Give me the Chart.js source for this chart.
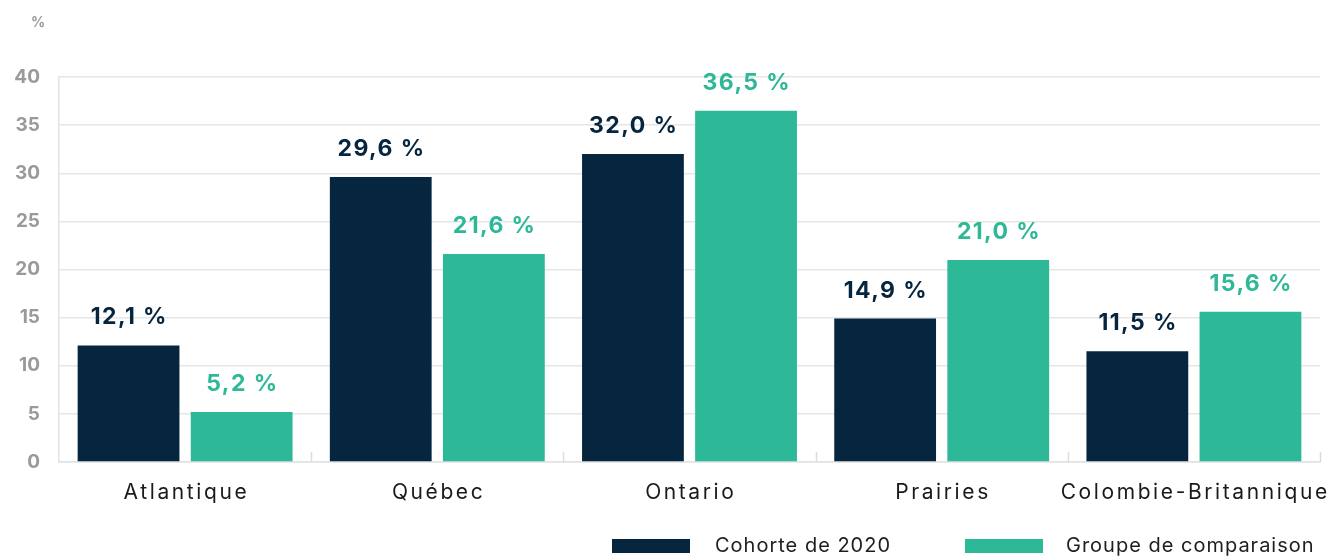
<!DOCTYPE html>
<html lang="fr">
<head>
<meta charset="utf-8">
<title>Cohorte de 2020 par région</title>
<script src="https://cdn.jsdelivr.net/npm/chart.js@4.4.1/dist/chart.umd.min.js"></script>
<style>
  html, body { margin: 0; padding: 0; background: #ffffff; }
  #wrap { position: relative; width: 1338px; height: 557px; }
</style>
</head>
<body>
<div id="wrap"><canvas id="regionChart" width="1338" height="557"></canvas></div>
<script>
// --- Data ---
const regions = ['Atlantique', 'Québec', 'Ontario', 'Prairies', 'Colombie-Britannique'];
const cohorte2020 = [12.1, 29.6, 32.0, 14.9, 11.5];
const groupeComparaison = [5.2, 21.6, 36.5, 21.0, 15.6];
const yTicks = [0, 5, 10, 15, 20, 25, 30, 35, 40];

const navy = '#062640';
const teal = '#2db897';
const fontFamily = 'Inter, "Open Sans", sans-serif';

// text with letter spacing, centred or left aligned
function spacedText(ctx, txt, x, y, spacing, align) {
    ctx.letterSpacing = spacing + 'px';
    const w = ctx.measureText(txt).width - spacing;
    ctx.textAlign = 'left';
    ctx.fillText(txt, align === 'center' ? x - w / 2 : x, y);
    ctx.letterSpacing = '0px';
}

// Category labels, labels above bars, legend and small category ticks
const annotate = {
    id: 'annotate',
    afterDatasetsDraw(chart) {
        const ctx = chart.ctx;
        const area = chart.chartArea;
        const xScale = chart.scales.x;
        ctx.save();
        ctx.textBaseline = 'middle';

        // little ticks at category boundaries
        ctx.strokeStyle = '#dcdcdc';
        ctx.lineWidth = 1.5;
        const step = (area.right - area.left) / regions.length;
        for (let i = 1; i <= regions.length; i++) {
            const x = Math.round(area.left + i * step) + 0.5;
            ctx.beginPath();
            ctx.moveTo(x, area.bottom - 10);
            ctx.lineTo(x, area.bottom);
            ctx.stroke();
        }

        // category labels
        ctx.fillStyle = '#1a1a1a';
        ctx.font = '400 21px ' + fontFamily;
        regions.forEach((r, i) => {
            spacedText(ctx, r, xScale.getPixelForValue(i), 493, 2.6, 'center');
        });

        // value labels
        ctx.font = '700 23px ' + fontFamily;
        chart.data.datasets.forEach((ds, di) => {
            ctx.fillStyle = ds.backgroundColor;
            chart.getDatasetMeta(di).data.forEach((bar, i) => {
                const txt = ds.data[i].toFixed(1).replace('.', ',') + ' %';
                spacedText(ctx, txt, bar.x, bar.y - 28, 1.4, 'center');
            });
        });

        // "%" unit
        ctx.fillStyle = '#9a9a9a';
        ctx.font = '700 14px ' + fontFamily;
        spacedText(ctx, '%', 38, 23, 0, 'center');

        // legend
        const items = [
            { label: chart.data.datasets[0].label, color: navy, box: 612, text: 715 },
            { label: chart.data.datasets[1].label, color: teal, box: 965, text: 1066 }
        ];
        ctx.font = '400 20px ' + fontFamily;
        items.forEach(it => {
            ctx.fillStyle = it.color;
            ctx.fillRect(it.box, 539, 78, 14);
            ctx.fillStyle = '#1e1e1e';
            spacedText(ctx, it.label, it.text, 546, 1, 'left');
        });
        ctx.restore();
    }
};

new Chart(document.getElementById('regionChart'), {
    type: 'bar',
    data: {
        labels: regions,
        datasets: [
            { label: 'Cohorte de 2020', data: cohorte2020, backgroundColor: navy },
            { label: 'Groupe de comparaison', data: groupeComparaison, backgroundColor: teal }
        ]
    },
    options: {
        responsive: false,
        animation: false,
        layout: { padding: { top: 77, right: 18, left: 0, bottom: 0 } },
        datasets: {
            bar: { categoryPercentage: 0.897, barPercentage: 0.9 }
        },
        plugins: {
            legend: { display: false },
            tooltip: { enabled: false }
        },
        scales: {
            y: {
                min: 0,
                max: 40,
                afterFit(scale) { scale.width = 59; },
                afterBuildTicks(scale) { scale.ticks = yTicks.map(v => ({ value: v })); },
                border: { color: '#e2e2e2', width: 1.5 },
                grid: { color: '#e6e6e6', lineWidth: 1.5, drawTicks: false },
                ticks: {
                    padding: 19,
                    color: '#9a9a9a',
                    font: { family: fontFamily, size: 19, weight: '700' }
                }
            },
            x: {
                afterFit(scale) { scale.height = 95; },
                border: { color: '#e2e2e2', width: 1.5 },
                grid: { display: false, drawTicks: false },
                ticks: { display: false }
            }
        }
    },
    plugins: [annotate]
});
</script>
</body>
</html>
